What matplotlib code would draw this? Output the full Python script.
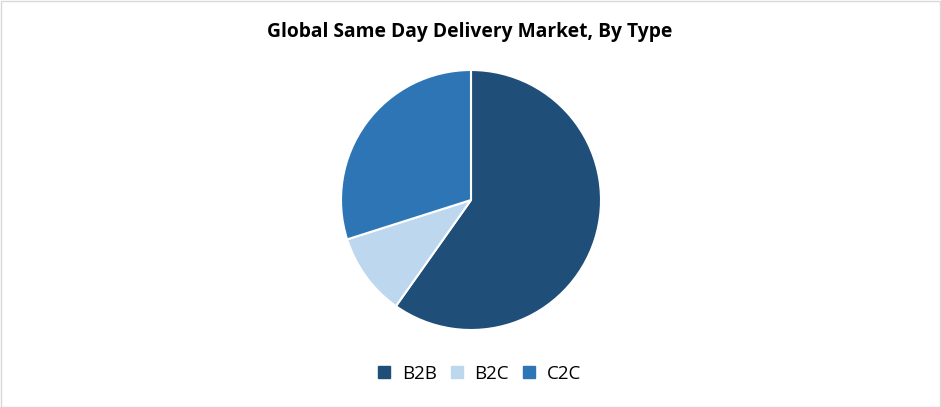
import matplotlib
matplotlib.use("Agg")
import matplotlib.pyplot as plt
from matplotlib.patches import Rectangle
from matplotlib.lines import Line2D

categories = ["B2B", "B2C", "C2C"]
values = [59.8, 10.3, 29.9]
colors = ["#1F4E79", "#BDD7EE", "#2E75B6"]
title = "Global Same Day Delivery Market, By Type"

W, H = 941, 407
fig = plt.figure(figsize=(W / 100, H / 100), dpi=100)
fig.patch.set_facecolor("white")

cx, cy, r = 471, 200, 130
ax = fig.add_axes([(cx - r) / W, (H - cy - r) / H, 2 * r / W, 2 * r / H])
ax.pie(values, colors=colors, startangle=90, counterclock=False,
       wedgeprops=dict(edgecolor="white", linewidth=1.5), radius=1)
ax.set_xlim(-1.0, 1.0)
ax.set_ylim(-1.0, 1.0)
ax.set_aspect("equal")
ax.axis("off")

fig.text(470 / W, 1 - 32 / H, title, ha="center", va="center",
         fontsize=13.9, fontweight="bold", family=["Open Sans", "DejaVu Sans"], color="black")

handles = [Line2D([0], [0], marker="s", linestyle="none", markersize=8,
                  markerfacecolor=c, markeredgecolor=c) for c in colors]
fig.legend(handles, categories, loc="center", bbox_to_anchor=(478 / W, 1 - 374 / H),
           ncol=3, frameon=False, handletextpad=0.45, columnspacing=0.55,
           handlelength=1.0, prop={"family": ["Open Sans", "DejaVu Sans"], "size": 13.5})

fig.add_artist(Rectangle((0.5 / W, 0.5 / H), 1 - 1.5 / W, 1 - 1.5 / H, transform=fig.transFigure,
                         fill=False, edgecolor="#D9D9D9", linewidth=1))

fig.savefig("out.png", dpi=100)
